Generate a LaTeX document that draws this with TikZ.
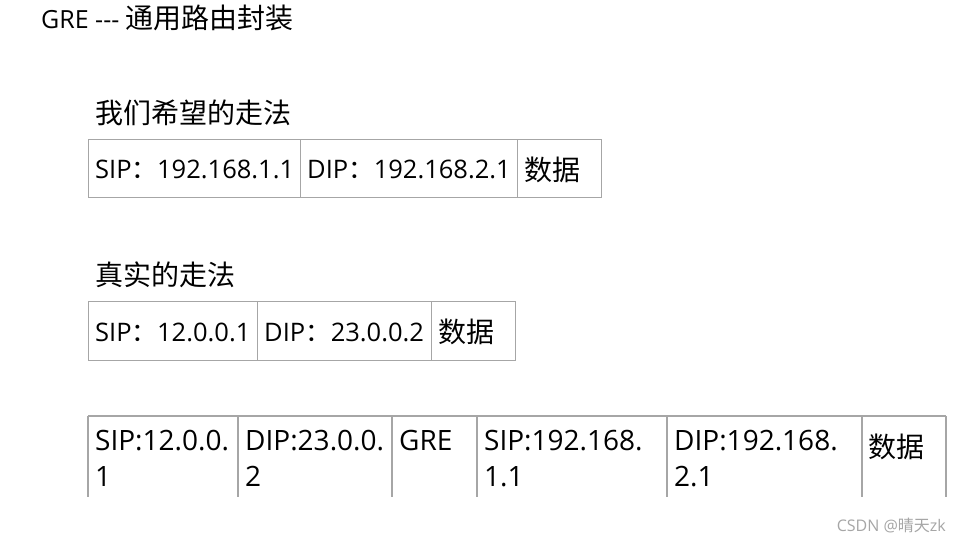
\documentclass[tikz,border=0pt]{standalone}
\usepackage{fontspec}
\setmainfont{Open Sans}
\newfontfamily\cjk{Noto Sans CJK SC}
\usetikzlibrary{calc}
\definecolor{gridc}{HTML}{A6A6A6}
\begin{document}
\begin{tikzpicture}[x=1pt,y=-1pt,
  cell/.style={draw=gridc, line width=1.1pt, rectangle, inner sep=0pt, anchor=north west},
  txt/.style={inner sep=0pt, anchor=west, font=\fontsize{25.5}{30}\selectfont},
  zh/.style={inner sep=0pt, anchor=west, font=\cjk\fontsize{28}{30}\selectfont},
  head/.style={inner sep=0pt, anchor=west, font=\fontsize{25}{28}\selectfont},
  two/.style={inner sep=0pt, anchor=north west, align=left, font=\fontsize{28}{36}\selectfont}]
\useasboundingbox[fill=white] (0,0) rectangle (966,541);
% title
\node[head] (title) at (41,18) {GRE {-}{-}{-} {\cjk\fontsize{28}{30}\selectfont 通用路由封装}};
% table 1
\node[zh] (h1) at (95,113) {我们希望的走法};
\node[cell, minimum width=212pt, minimum height=58pt] (a1) at (88,139) {};
\node[cell, minimum width=217pt, minimum height=58pt] (a2) at (300,139) {};
\node[cell, minimum width=84pt, minimum height=58pt] (a3) at (517,139) {};
\node[txt] (t1) at ($(a1.west)+(7,1)$) {SIP{\cjk ：}192.168.1.1};
\node[txt] (t2) at ($(a2.west)+(7,1)$) {DIP{\cjk ：}192.168.2.1};
\node[zh] (t3) at ($(a3.west)+(7,1)$) {数据};
% table 2
\node[zh] (h2) at (95,275) {真实的走法};
\node[cell, minimum width=169pt, minimum height=59pt] (b1) at (88,301) {};
\node[cell, minimum width=174pt, minimum height=59pt] (b2) at (257,301) {};
\node[cell, minimum width=84pt, minimum height=59pt] (b3) at (431,301) {};
\node[txt] (u1) at ($(b1.west)+(7,1)$) {SIP{\cjk ：}12.0.0.1};
\node[txt] (u2) at ($(b2.west)+(7,1)$) {DIP{\cjk ：}23.0.0.2};
\node[zh] (u3) at ($(b3.west)+(7,1)$) {数据};
% table 3 (open at the bottom)
\coordinate (c0) at (88,416);
\coordinate (c6) at (946,416);
\draw[draw=gridc, line width=1.1pt] (c0) -- (c6);
\foreach \x/\n in {88/0,238/1,392/2,477/3,667/4,862/5,946/6}
  \draw[draw=gridc, line width=1.1pt] (\x,416) -- (\x,497);
\node[two] (v1) at (95,430) {SIP:12.0.0.\\1};
\node[two] (v2) at (245,430) {DIP:23.0.0.\\2};
\node[two] (v3) at (399,430) {GRE};
\node[two] (v4) at (484,430) {SIP:192.168.\\1.1};
\node[two] (v5) at (674,430) {DIP:192.168.\\2.1};
\node[zh] (v6) at (868,447) {数据};
% watermark
\node[inner sep=0pt, anchor=east, text=gray!70, font=\fontsize{16}{18}\selectfont] (wm) at (946,525) {CSDN @{\cjk 晴天}zk};
\end{tikzpicture}
\end{document}
